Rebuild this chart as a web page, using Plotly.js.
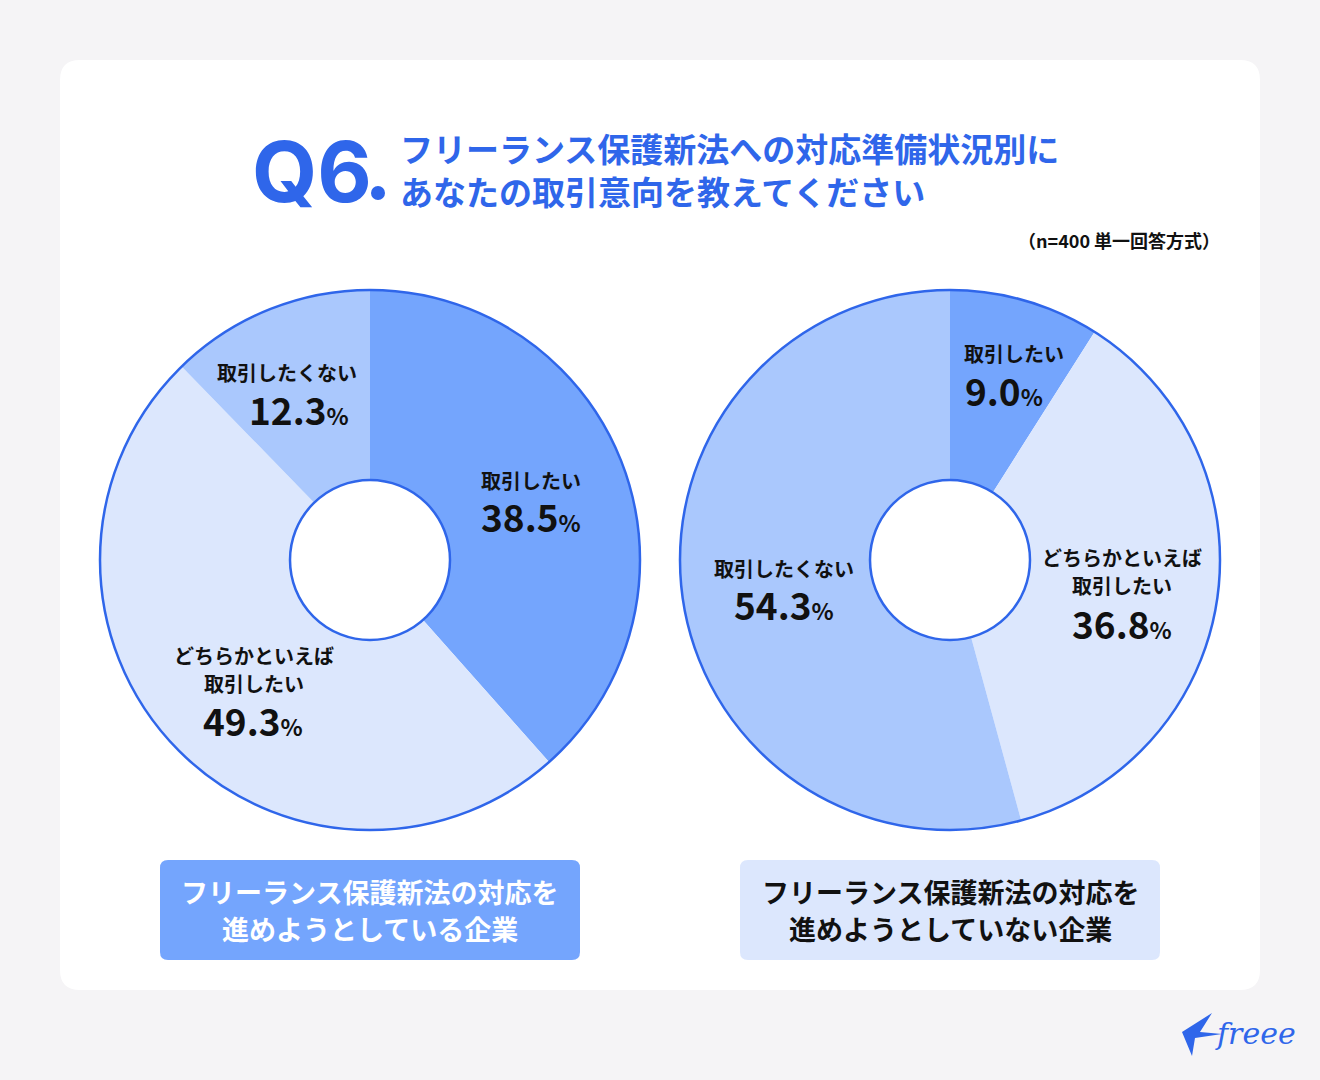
<!DOCTYPE html>
<html>
<head>
<meta charset="utf-8">
<script src="https://cdn.plot.ly/plotly-3.0.1.min.js"></script>
<style>
  body { margin: 0; background: #f5f4f6; }
  #chart { width: 1320px; height: 1080px; }
</style>
</head>
<body>
<div id="chart"></div>
<script>
// Data
const categories = ['取引したい', 'どちらかといえば取引したい', '取引したくない'];
const leftValues = [38.5, 49.3, 12.3];   // 対応を進めようとしている企業
const rightValues = [9.0, 36.8, 54.3];   // 対応を進めようとしていない企業
const groupNames = ['フリーランス保護新法の対応を<br>進めようとしている企業',
                    'フリーランス保護新法の対応を<br>進めようとしていない企業'];
const sliceColors = ['#74a5fd', '#dce7fd', '#aac8fd'];

const W = 1320, H = 1080;
const blue = '#2f66ea';
const font = 'Noto Sans CJK JP, Noto Sans, sans-serif';
const px = x => x / W;
const py = y => 1 - y / H;

// pie geometry (pixels)
const R = 270, hole = 80;
const centers = [[370, 560], [950, 560]];

function pieTrace(values, c) {
    return {
        type: 'pie',
        values: values,
        labels: categories,
        sort: false,
        direction: 'clockwise',
        rotation: 0,
        hole: hole / R,
        textinfo: 'none',
        hoverinfo: 'label+percent',
        showlegend: false,
        marker: { colors: sliceColors, line: { width: 0 } },
        domain: {
            x: [px(c[0] - R), px(c[0] + R)],
            y: [py(c[1] + R), py(c[1] - R)]
        }
    };
}

function roundRect(x0, y0, x1, y1, r, fill) {
    const p = 'M' + px(x0 + r) + ',' + py(y0) +
        ' L' + px(x1 - r) + ',' + py(y0) +
        ' Q' + px(x1) + ',' + py(y0) + ' ' + px(x1) + ',' + py(y0 + r) +
        ' L' + px(x1) + ',' + py(y1 - r) +
        ' Q' + px(x1) + ',' + py(y1) + ' ' + px(x1 - r) + ',' + py(y1) +
        ' L' + px(x0 + r) + ',' + py(y1) +
        ' Q' + px(x0) + ',' + py(y1) + ' ' + px(x0) + ',' + py(y1 - r) +
        ' L' + px(x0) + ',' + py(y0 + r) +
        ' Q' + px(x0) + ',' + py(y0) + ' ' + px(x0 + r) + ',' + py(y0) + ' Z';
    return { type: 'path', xref: 'paper', yref: 'paper', path: p,
             fillcolor: fill, line: { width: 0 }, layer: 'below' };
}

function circle(c, r) {
    return { type: 'circle', xref: 'paper', yref: 'paper',
             x0: px(c[0] - r), x1: px(c[0] + r), y0: py(c[1] + r), y1: py(c[1] - r),
             line: { color: blue, width: 2.5 }, layer: 'above' };
}

const shapes = [
    roundRect(60, 60, 1260, 990, 20, '#ffffff'),
    roundRect(160, 860, 580, 960, 8, '#74a5fd'),
    roundRect(740, 860, 1160, 960, 8, '#dce7fd'),
    circle(centers[0], R), circle(centers[0], hole),
    circle(centers[1], R), circle(centers[1], hole)
];

const annotations = [];
function addText(x, y, text, size, color, fam, anchor) {
    annotations.push({
        xref: 'paper', yref: 'paper', x: px(x), y: py(y),
        xanchor: anchor || 'center', yanchor: 'middle', showarrow: false,
        text: text, font: { family: fam || font, size: size, color: color }
    });
}
function pct(v) {
    return '<b>' + v.toFixed(1) + '<span style="font-size:23px">%</span></b>';
}
function addLabel(x, ys, names, xp, yp, v) {
    names.forEach((n, i) => addText(x, ys[i], '<b>' + n + '</b>', 20, '#111111'));
    addText(xp, yp, pct(v), 37, '#111111');
}
// left pie labels
addLabel(531, [480], [categories[0]], 531, 516, leftValues[0]);
addLabel(287, [373], [categories[2]], 299, 409, leftValues[2]);
addLabel(254, [655, 683], ['どちらかといえば', '取引したい'], 253, 720, leftValues[1]);
// right pie labels
addLabel(1014, [354], [categories[0]], 1004, 390, rightValues[0]);
addLabel(1122, [557, 585], ['どちらかといえば', '取引したい'], 1122, 623, rightValues[1]);
addLabel(784, [568], [categories[2]], 784, 604, rightValues[2]);

// group captions
const capLines = groupNames.map(g => g.split('<br>'));
addText(370, 891, '<b>' + capLines[0][0] + '</b>', 27, '#ffffff');
addText(370, 928, '<b>' + capLines[0][1] + '</b>', 27, '#ffffff');
addText(950, 891, '<b>' + capLines[1][0] + '</b>', 27, '#111111');
addText(950, 928, '<b>' + capLines[1][1] + '</b>', 27, '#111111');

// title
addText(250, 172, '<b>Q6</b>', 84, blue, 'Inter, Noto Sans, sans-serif', 'left');
shapes.push({ type: 'circle', xref: 'paper', yref: 'paper',
              x0: px(371), x1: px(385), y0: py(200), y1: py(186),
              fillcolor: blue, line: { width: 0 } });
addText(398, 148, '<b>フリーランス保護新法への対応準備状況別に</b>', 33, blue, font, 'left');
addText(398, 191, '<b>あなたの取引意向を教えてください</b>', 33, blue, font, 'left');
addText(1222, 240, '<b>（n=400 単一回答方式）</b>', 18, '#111111', font, 'right');

// logo
addText(1298, 1033, '<i>freee</i>', 30, blue, 'DejaVu Serif, serif', 'right');
shapes.push({
    type: 'path', xref: 'paper', yref: 'paper', layer: 'above',
    path: 'M' + px(1182) + ',' + py(1032) + ' L' + px(1212) + ',' + py(1013) +
          ' L' + px(1200) + ',' + py(1032) + ' L' + px(1222) + ',' + py(1034) +
          ' L' + px(1195) + ',' + py(1038) + ' L' + px(1192) + ',' + py(1056) + ' Z',
    fillcolor: blue, line: { width: 0 }
});

const layout = {
    width: W, height: H,
    margin: { l: 0, r: 0, t: 0, b: 0 },
    paper_bgcolor: '#f5f4f6',
    plot_bgcolor: '#f5f4f6',
    showlegend: false,
    shapes: shapes,
    annotations: annotations
};

Plotly.newPlot('chart', [pieTrace(leftValues, centers[0]), pieTrace(rightValues, centers[1])],
               layout, { displayModeBar: false, staticPlot: true });
</script>
</body>
</html>
